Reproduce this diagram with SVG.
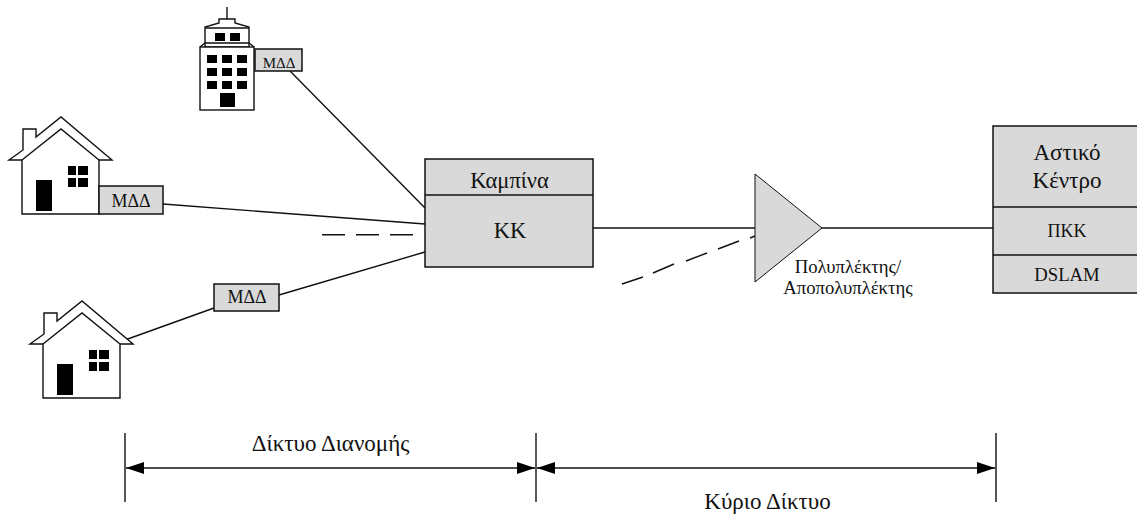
<svg xmlns="http://www.w3.org/2000/svg" width="1137" height="515" viewBox="0 0 1137 515">
<style>
text{font-family:"Liberation Serif","Times New Roman",serif;fill:#111;text-anchor:middle}
.box{fill:#d9d9d9;stroke:#111;stroke-width:1.5}
.ln{fill:none;stroke:#111;stroke-width:1.4}
.hs{fill:#fff;stroke:#111;stroke-width:1.4;stroke-linejoin:miter}
.k{fill:#000}
.t15{font-size:15px}.t18{font-size:18px}.t19{font-size:18.700px}.t22{font-size:22.500px}.t23{font-size:23px}
</style>
<defs>
<marker id="ah" viewBox="0 0 18 12" refX="18" refY="6" markerWidth="18" markerHeight="12" markerUnits="userSpaceOnUse" orient="auto-start-reverse"><path d="M0 0L18 6L0 12z" fill="#000"/></marker>
<g id="house">
<path class="hs" d="M22 214V160H9L23 150V129H36V137L61 117L112 160H99V214Z"/>
<path class="ln" d="M22 160L61 129L99 160"/>
<rect class="k" x="36" y="180" width="16" height="31"/>
<path class="k" d="M68 166h8v9h-8zM78 166h10v9h-10zM68 178h8v9h-8zM78 178h10v9h-10z"/>
</g>
</defs>
<g id="connectors">
<path class="ln" d="M290 71L425 208"/>
<path class="ln" d="M163 204L425 224"/>
<path class="ln" d="M322 234.700H345M356 234.700H379M390 234.700H413"/>
<path class="ln" d="M125 340L214 308M279 295L425 252"/>
<path class="ln" d="M593 228H755M822 228H993"/>
<path class="ln" d="M622 284L643 277M653 273L674 264M686 261L707 253M718 249L739 241M750 238L755 236"/>
<path class="ln" d="M125 433V502M536 433V502M996 433V502"/>
<path class="ln" marker-start="url(#ah)" marker-end="url(#ah)" d="M126 468H535"/>
<path class="ln" marker-start="url(#ah)" marker-end="url(#ah)" d="M537 468H995"/>
</g>
<g id="building">
<path class="ln" d="M227 7V19"/>
<path class="hs" d="M205 47V27L219 23V19H235V23L249 27V47Z"/>
<path class="ln" d="M205 28H249M200 47L205 43H249L254 47"/>
<rect class="k" x="215" y="33" width="10" height="8"/>
<rect class="k" x="230" y="33" width="10" height="8"/>
<rect class="hs" x="200" y="47" width="54" height="63"/>
<path class="k" d="M207 55h10v8h-10zM222 55h10v8h-10zM237 55h10v8h-10zM207 68h10v8h-10zM222 68h10v8h-10zM237 68h10v8h-10zM207 81h10v8h-10zM222 81h10v8h-10zM237 81h10v8h-10zM220 93h15v14h-15z"/>
</g>
<g id="mdd-building"><rect class="box" x="255" y="49" width="47" height="22"/><text class="t15" x="279" y="68">ΜΔΔ</text></g>
<g id="house-1"><use href="#house"/></g>
<g id="mdd-1"><rect class="box" x="99" y="186" width="64" height="28"/><text class="t18" x="131" y="207">ΜΔΔ</text></g>
<g id="house-2"><use href="#house" x="21" y="184"/></g>
<g id="mdd-2"><rect class="box" x="214" y="284" width="65" height="27"/><text class="t18" x="247" y="303">ΜΔΔ</text></g>
<g id="cabinet">
<rect class="box" x="425" y="159" width="168" height="108"/>
<path class="ln" d="M425 195H593"/>
<text class="t22" x="509.500" y="188">Καμπίνα</text>
<text class="t22" x="510" y="238">ΚΚ</text>
</g>
<g id="mux">
<path class="box" d="M755 174V282L822 228Z" style="stroke-width:1"/>
<text class="t19" x="848" y="273">Πολυπλέκτης/</text>
<text class="t19" x="848" y="294">Αποπολυπλέκτης</text>
</g>
<g id="central-office">
<rect class="box" x="993" y="126" width="160" height="167"/>
<path class="ln" d="M993 207H1137M993 255H1137"/>
<text class="t23" x="1067" y="160">Αστικό</text>
<text class="t23" x="1067" y="188">Κέντρο</text>
<text class="t18" x="1067" y="237">ΠΚΚ</text>
<text class="t19" x="1067" y="281">DSLAM</text>
</g>
<g id="labels">
<text class="t23" x="330.500" y="451">Δίκτυο Διανομής</text>
<text class="t23" x="767.500" y="509">Κύριο Δίκτυο</text>
</g>
</svg>
